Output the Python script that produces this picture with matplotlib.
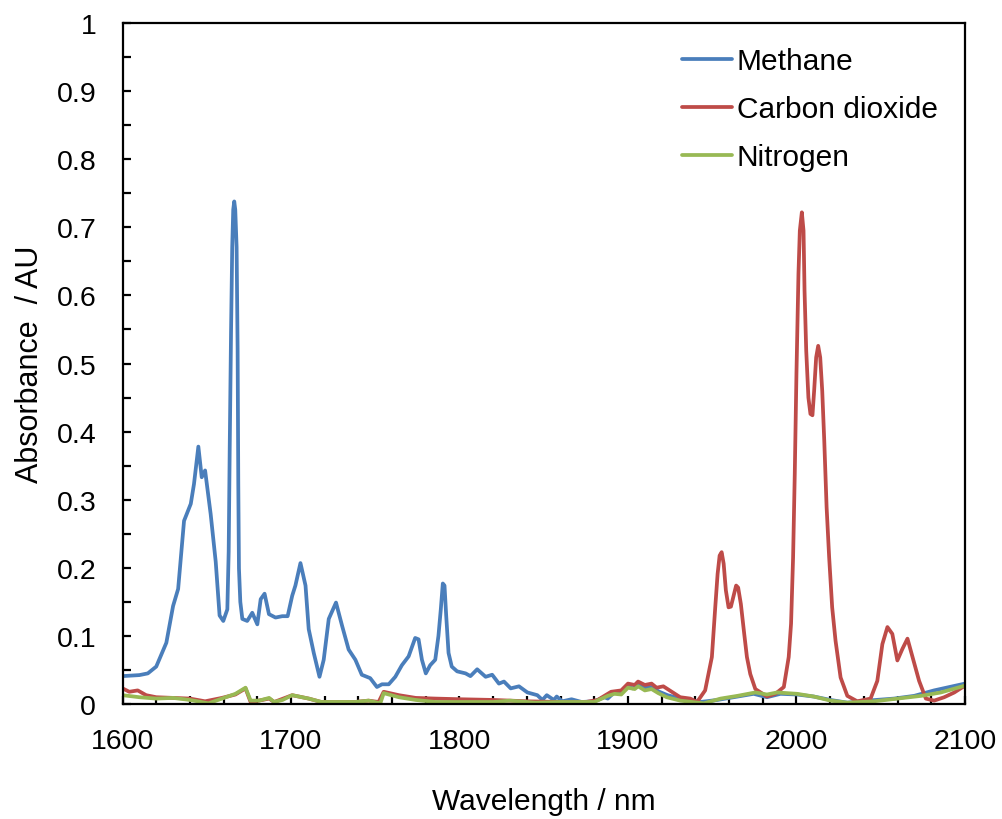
import matplotlib
matplotlib.use("Agg")
import matplotlib.pyplot as plt
from matplotlib.ticker import MultipleLocator

plt.rcParams['font.family'] = ['Liberation Sans', 'DejaVu Sans']

# wavelength (nm) / absorbance (AU)
ch4_nm = [1600, 1610, 1615, 1620, 1626, 1630, 1633, 1636.5, 1640.5, 1642.4, 1645, 1647, 1649,
          1652.3, 1655.3, 1657.6, 1659.8, 1662.2, 1663.0, 1663.6, 1664.4, 1665.1, 1665.7, 1666.3,
          1666.9, 1667.7, 1668.3, 1668.7, 1669.1, 1669.9, 1671.1, 1674,
          1677, 1680, 1682, 1684.3, 1686.9, 1690.8, 1694.8, 1698, 1700.7, 1702.6, 1705.6, 1708.6,
          1710.5, 1713.5, 1716.9, 1719.4, 1722.4, 1726.7, 1730.3, 1734.2, 1738.2, 1742, 1747,
          1751, 1754, 1758, 1761.9, 1765.8, 1769.8, 1773.7, 1775.7, 1777.7, 1780, 1782.6, 1785.6,
          1787.5, 1788.9, 1790.1, 1791.1, 1792.1, 1793.5, 1795.4, 1798.6, 1803.6, 1806.5, 1810.5,
          1815.5, 1819.4, 1823.4,
          1826.4, 1830.4, 1835.3, 1840.3, 1846.2, 1849.2, 1851.8, 1856, 1857.7, 1861, 1866.5,
          1872.5, 1880, 1886, 1888, 1891.8, 1895.8, 1899.8, 1902.8, 1905.7, 1909.7, 1913.7,
          1918.6, 1923.5, 1931, 1943, 1953, 1962.7, 1974.6, 1982.5, 1990.5, 2000.4, 2010.3,
          2020.2, 2030.2, 2042, 2058, 2069.9, 2081.7, 2100]
ch4_abs = [0.041, 0.0425, 0.045, 0.055, 0.09, 0.144, 0.169, 0.269, 0.294, 0.323, 0.378, 0.333, 0.343,
           0.279, 0.209, 0.13, 0.122, 0.139, 0.224, 0.373, 0.547, 0.671, 0.726, 0.738,
           0.726, 0.671, 0.522, 0.323, 0.199, 0.15, 0.125, 0.122,
           0.134, 0.117, 0.154, 0.162, 0.132, 0.127, 0.129, 0.129, 0.159, 0.174, 0.207, 0.174,
           0.11, 0.075, 0.04, 0.065, 0.125, 0.149, 0.115, 0.08, 0.065, 0.043, 0.038,
           0.025, 0.029, 0.029, 0.04, 0.057, 0.07, 0.097, 0.095, 0.065, 0.045, 0.057, 0.065,
           0.1, 0.139, 0.177, 0.174, 0.13, 0.075, 0.055, 0.048, 0.045, 0.041, 0.051,
           0.040, 0.043, 0.030,
           0.033, 0.023, 0.026, 0.017, 0.013, 0.006, 0.013, 0.006, 0.011, 0.004, 0.007,
           0.003, 0.004, 0.01, 0.008, 0.017, 0.016, 0.026, 0.023, 0.028, 0.024, 0.025,
           0.018, 0.013, 0.008, 0.003, 0.006, 0.010, 0.015, 0.010, 0.015, 0.014, 0.011,
           0.006, 0.002, 0.005, 0.008, 0.012, 0.02, 0.03]

co2_nm = [1600, 1604, 1609, 1614, 1620, 1630, 1640, 1649, 1659, 1667, 1673, 1676, 1683, 1687, 1690,
          1700.7, 1710.5, 1718, 1738, 1746, 1752, 1755, 1764, 1774, 1785.6, 1801, 1820, 1840, 1860,
          1875, 1882, 1890, 1896, 1900, 1904, 1906, 1910, 1914, 1917, 1921, 1926, 1931, 1937, 1941,
          1945.8, 1949.8, 1951.8, 1953.2, 1954.4, 1955.6, 1956.8, 1958.1, 1959.7, 1961.1, 1962.7,
          1964.2, 1965.4, 1967.0, 1969.0, 1970.6, 1972.6, 1975.6, 1982.5, 1987.5, 1992.5,
          1995.4, 1996.8, 1998.0, 1999.0, 2000.0, 2001.2, 2002.0, 2003.2, 2004.2, 2004.8, 2005.8,
          2007.1, 2008.3, 2009.5, 2010.5, 2011.7, 2012.9, 2014.1, 2015.3, 2016.5, 2017.9, 2019.4,
          2021.2, 2023.2, 2026.2, 2030.2, 2036.1,
          2044, 2048, 2051, 2054, 2056.9, 2059.9, 2062.9, 2065.9, 2068.9, 2072.8, 2076.8, 2081.7,
          2087.7, 2093.7, 2100]
co2_abs = [0.023, 0.018, 0.02, 0.013, 0.01, 0.009, 0.008, 0.004, 0.009, 0.014, 0.023, 0.003, 0.006, 0.008, 0.003,
           0.013, 0.008, 0.003, 0.003, 0.005, 0.003, 0.018, 0.013, 0.009, 0.008, 0.007, 0.006, 0.004, 0.003,
           0.003, 0.006, 0.018, 0.02, 0.03, 0.028, 0.033, 0.028, 0.03, 0.024, 0.026, 0.018, 0.010, 0.008, 0.003,
           0.02, 0.069, 0.142, 0.191, 0.218, 0.223, 0.206, 0.167, 0.142, 0.143, 0.159,
           0.174, 0.171, 0.147, 0.103, 0.069, 0.044, 0.022, 0.011, 0.015, 0.025,
           0.069, 0.118, 0.215, 0.338, 0.485, 0.632, 0.695, 0.722, 0.695, 0.607, 0.519,
           0.45, 0.426, 0.424, 0.46, 0.509, 0.526, 0.509, 0.46, 0.387, 0.289, 0.216,
           0.142, 0.093, 0.039, 0.012, 0.004,
           0.008, 0.034, 0.088, 0.113, 0.103, 0.064, 0.081, 0.096, 0.069, 0.034, 0.008, 0.005,
           0.010, 0.017, 0.027]

n2_nm = [1600, 1610, 1620, 1630, 1640, 1651, 1659, 1667, 1673, 1676, 1681, 1687, 1690, 1695,
         1700.7, 1710.5, 1718, 1738, 1746, 1753, 1755, 1764, 1774, 1785.6, 1801, 1820, 1830, 1845,
         1860, 1880, 1888, 1892, 1896, 1900, 1904, 1906, 1910, 1914, 1918, 1923, 1931, 1945, 1955,
         1965, 1975.6, 1982.5, 1988.5, 2000.4, 2010.3, 2020.2, 2030.2, 2046, 2060, 2074, 2085.7, 2100]
n2_abs = [0.013, 0.01, 0.008, 0.009, 0.006, 0.001, 0.008, 0.015, 0.024, 0.005, 0.005, 0.009, 0.003, 0.006,
          0.013, 0.008, 0.003, 0.003, 0.005, 0.001, 0.016, 0.01, 0.006, 0.003, 0.003, 0.003, 0.005, 0.002,
          0.003, 0.003, 0.012, 0.015, 0.014, 0.024, 0.022, 0.026, 0.02, 0.022, 0.016, 0.01, 0.005, 0.001, 0.008,
          0.012, 0.017, 0.014, 0.017, 0.015, 0.011, 0.005, 0.002, 0.004, 0.008, 0.012, 0.017, 0.027]

y_ticks = [0, 0.1, 0.2, 0.3, 0.4, 0.5, 0.6, 0.7, 0.8, 0.9, 1.0]
y_ticklabels = ["0", "0.1", "0.2", "0.3", "0.4", "0.5", "0.6", "0.7", "0.8", "0.9", "1"]

fig = plt.figure(figsize=(10.02, 8.2), dpi=100)
ax = fig.add_axes([0.1223, 0.1402, 0.8407, 0.8305])

lw = 2.7
style = dict(lw=lw, solid_joinstyle="round", solid_capstyle="round")
ax.plot(ch4_nm, ch4_abs, color="#4A7EBB", label="Methane", **style)
ax.plot(co2_nm, co2_abs, color="#BE4B48", label="Carbon dioxide", **style)
ax.plot(n2_nm, n2_abs, color="#98B954", label="Nitrogen", **style)

ax.set_xlim(1600, 2100)
ax.set_ylim(0, 1)
ax.xaxis.set_major_locator(MultipleLocator(100))
ax.xaxis.set_minor_locator(MultipleLocator(20))
ax.yaxis.set_minor_locator(MultipleLocator(0.05))
ax.set_yticks(y_ticks)
ax.set_yticklabels(y_ticklabels)

for s in ax.spines.values():
    s.set_linewidth(1.6)
ax.tick_params(which="both", direction="in", length=6, width=1.6, labelsize=20.5)
ax.tick_params(axis="y", which="both", pad=19)
ax.tick_params(axis="x", which="both", pad=17)

ax.set_xlabel("Wavelength / nm", fontsize=21.5, labelpad=24)
ax.set_ylabel("Absorbance  / AU", fontsize=22, labelpad=8)

ax.legend(loc="upper left", bbox_to_anchor=(0.6806, 0.941), bbox_transform=fig.transFigure,
          frameon=False, fontsize=21.5, handlelength=1.67, handletextpad=0.17,
          labelspacing=0.67, borderpad=0, borderaxespad=0)

fig.savefig("out.png", dpi=100)
